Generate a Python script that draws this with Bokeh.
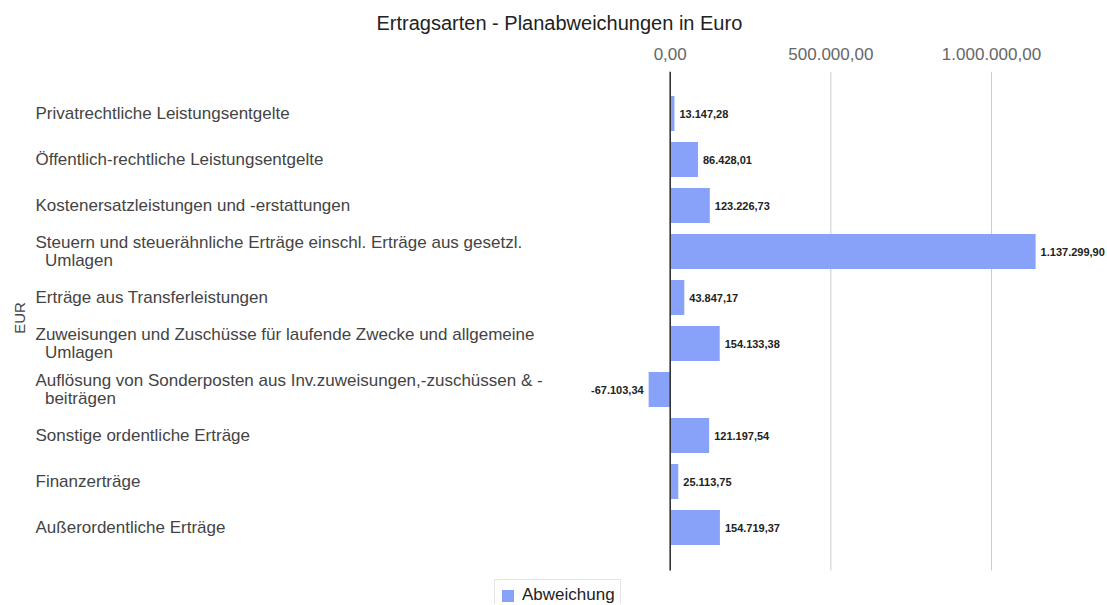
import math
from bokeh.plotting import figure
from bokeh.models import (ColumnDataSource, Range1d, FixedTicker, Legend, LegendItem)
from bokeh.core.properties import value
from bokeh.embed import file_html
from bokeh.resources import INLINE

# ---- data ----
categories = [
    "Privatrechtliche Leistungsentgelte",
    "Öffentlich-rechtliche Leistungsentgelte",
    "Kostenersatzleistungen und -erstattungen",
    "Steuern und steuerähnliche Erträge einschl. Erträge aus gesetzl.\n\u00a0\u00a0Umlagen",
    "Erträge aus Transferleistungen",
    "Zuweisungen und Zuschüsse für laufende Zwecke und allgemeine\n\u00a0\u00a0Umlagen",
    "Auflösung von Sonderposten aus Inv.zuweisungen,-zuschüssen & -\n\u00a0\u00a0beiträgen",
    "Sonstige ordentliche Erträge",
    "Finanzerträge",
    "Außerordentliche Erträge",
]
abweichung = [13147.28, 86428.01, 123226.73, 1137299.90, 43847.17,
              154133.38, -67103.34, 121197.54, 25113.75, 154719.37]
x_ticks = [0, 500000, 1000000]
x_tick_labels = ["0,00", "500.000,00", "1.000.000,00"]
y_axis_title = "EUR"
series_name = "Abweichung"
chart_title = "Ertragsarten - Planabweichungen in Euro"


def de_fmt(v):
    s = f"{v:,.2f}"
    return s.replace(",", "X").replace(".", ",").replace("X", ".")


idx = list(range(len(categories)))
labels = [de_fmt(v) for v in abweichung]
pos_mask = [v >= 0 for v in abweichung]

# ---- layout geometry (canvas px) ----
FT = 71
frame_w = 1105
frame_h = 533
px_per_unit = 321.3e-6
zero_in_frame = 669.7
x_start = -zero_in_frame / px_per_unit
x_end = (frame_w - zero_in_frame) / px_per_unit

row_px = 46.0
y_top = -42.0 / row_px                   # top of frame
y_plot_bottom = 9 + 43.0 / row_px        # bottom of plotting area (gridlines end)
y_bottom = y_top + frame_h / row_px      # bottom of frame (legend area below)

p = figure(frame_width=frame_w, frame_height=frame_h, output_backend="svg",
           toolbar_location=None,
           x_range=Range1d(x_start, x_end), y_range=Range1d(y_bottom, y_top),
           x_axis_location="above", min_border_left=0, min_border_top=FT,
           min_border_bottom=0, min_border_right=0)
p.outline_line_color = None
p.background_fill_color = "white"
p.border_fill_color = "white"

p.title.text = chart_title
p.title.text_font = "Liberation Sans"
p.title.text_font_size = "20px"
p.title.text_font_style = "normal"
p.title.text_color = "#222222"
p.title.align = "left"
p.title.offset = 376
p.title.vertical_align = "top"
p.title.standoff = 18

xa = p.xaxis[0]
xa.ticker = FixedTicker(ticks=x_ticks)
xa.major_label_overrides = {t: l for t, l in zip(x_ticks, x_tick_labels)}
xa.major_label_text_font = "Liberation Sans"
xa.major_label_text_font_size = "17px"
xa.major_label_text_color = "#666666"
xa.axis_line_color = None
xa.major_tick_line_color = None
xa.minor_tick_line_color = None
xa.major_tick_out = 0
xa.major_tick_in = 0
xa.major_label_standoff = 12

p.yaxis.visible = False
p.xgrid.grid_line_color = None
p.ygrid.grid_line_color = None

# vertical gridlines (limited to the plotting area) and the zero baseline
grid_x = [t for t in x_ticks if t != 0]
p.segment(x0=grid_x, x1=grid_x, y0=[y_top] * len(grid_x), y1=[y_plot_bottom] * len(grid_x),
          line_color="#cccccc", line_width=1)

src = ColumnDataSource(dict(y=idx, v=abweichung, cat=categories, lab=labels))
bars = p.hbar(y="y", left=0, right="v", height=0.76, source=src,
              fill_color="#87a2f8", line_color=None)

p.segment(x0=[0], x1=[0], y0=[y_top], y1=[y_plot_bottom], line_color="#333333", line_width=1.6)

pos = ColumnDataSource(dict(y=[i for i, m in zip(idx, pos_mask) if m],
                            v=[v for v, m in zip(abweichung, pos_mask) if m],
                            lab=[l for l, m in zip(labels, pos_mask) if m]))
neg = ColumnDataSource(dict(y=[i for i, m in zip(idx, pos_mask) if not m],
                            v=[v for v, m in zip(abweichung, pos_mask) if not m],
                            lab=[l for l, m in zip(labels, pos_mask) if not m]))
p.text(x="v", y="y", text="lab", source=pos, x_offset=5,
       text_font=value("Liberation Sans"), text_font_size="11px", text_font_style="bold",
       text_color="#222222", text_align="left", text_baseline="middle")
p.text(x="v", y="y", text="lab", source=neg, x_offset=-5,
       text_font=value("Liberation Sans"), text_font_size="11px", text_font_style="bold",
       text_color="#222222", text_align="right", text_baseline="middle")

# category labels, left-aligned near the left edge
lab_src = ColumnDataSource(dict(y=idx, cat=categories, x=[x_start] * len(idx)))
p.text(x="x", y="y", text="cat", source=lab_src, x_offset=35,
       text_font=value("Liberation Sans"), text_font_size="17px",
       text_color="#444444", text_align="left", text_baseline="middle",
       text_line_height=0.97)

# vertical axis title, centred on the plotting area
eur_y = (y_top + y_plot_bottom) / 2 - 3.0 / row_px
p.text(x=[x_start], y=[eur_y], text=[y_axis_title], x_offset=19, angle=math.pi / 2,
       text_font=value("Liberation Sans"), text_font_size="15px",
       text_color="#444444", text_align="center", text_baseline="middle")

legend = Legend(items=[LegendItem(label=series_name, renderers=[bars])],
                location=(494, -7), orientation="horizontal",
                label_text_font="Liberation Sans", label_text_font_size="17px",
                label_text_color="#222222", glyph_height=15, glyph_width=15,
                label_height=17, padding=5, margin=0, spacing=0,
                border_line_color="#cccccc", label_standoff=7,
                background_fill_color="white", background_fill_alpha=1.0)
p.add_layout(legend)

open("out.html", "w").write(file_html(p, INLINE))
